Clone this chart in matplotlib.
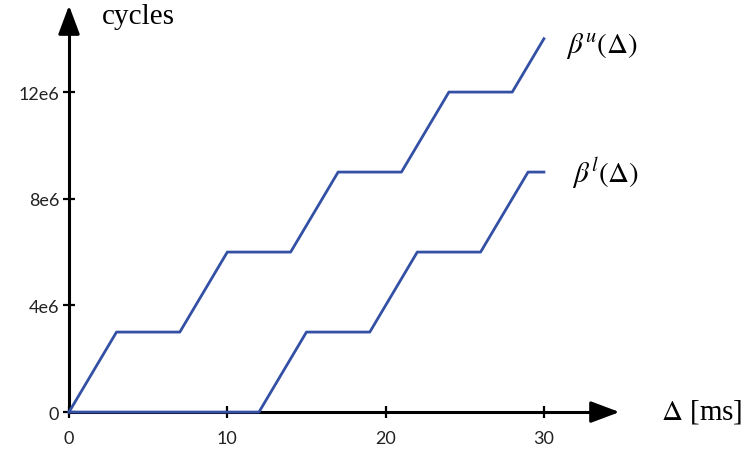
import numpy as np
import matplotlib.pyplot as plt

# values (x in ms, y in cycles)
upper_x = [0, 3, 7, 10, 14, 17, 21, 24, 28, 30]
upper_y = [0, 3e6, 3e6, 6e6, 6e6, 9e6, 9e6, 12e6, 12e6, 14e6]
lower_x = [0, 12, 15, 19, 22, 26, 29, 30]
lower_y = [0, 0, 3e6, 3e6, 6e6, 6e6, 9e6, 9e6]
xticks = [0, 10, 20, 30]
yticks = [0, 4e6, 8e6, 12e6]
ytick_labels = ['0', '4e6', '8e6', '12e6']

plt.rcParams['mathtext.fontset'] = 'stix'
blue = '#3350a4'

fig = plt.figure(figsize=(7.47, 4.56), dpi=100)
ax = fig.add_axes([0, 0, 1, 1])
ax.set_xlim(-4.36, 42.83)
ax.set_ylim(-1.61e6, 15.49e6)

ax.plot(upper_x, upper_y, color=blue, lw=2.0, zorder=3)
ax.plot(lower_x, lower_y, color=blue, lw=2.0, zorder=3)

# axes through the origin with arrow heads
for s in ['top', 'right']:
    ax.spines[s].set_visible(False)
ax.spines['left'].set_position(('data', 0))
ax.spines['bottom'].set_position(('data', 0))
ax.spines['left'].set_bounds(0, 14.8e6)
ax.spines['bottom'].set_bounds(0, 34.3)
ax.spines['left'].set_linewidth(2.2)
ax.spines['bottom'].set_linewidth(2.2)
ax.annotate('', xy=(34.95, 0), xytext=(33.5, 0),
            arrowprops=dict(arrowstyle='-|>,head_length=0.8,head_width=0.3',
                            color='black', lw=2.2, mutation_scale=22))
ax.annotate('', xy=(0, 15.35e6), xytext=(0, 14.3e6),
            arrowprops=dict(arrowstyle='-|>,head_length=0.8,head_width=0.3',
                            color='black', lw=2.2, mutation_scale=22))

ax.set_xticks(xticks)
ax.set_xticklabels([str(t) for t in xticks])
ax.set_yticks(yticks)
ax.set_yticklabels(ytick_labels)
ax.tick_params(direction='inout', length=8, width=1.6, labelsize=13)
ax.tick_params(axis='x', pad=9)
ax.tick_params(axis='y', pad=3)
for lab in ax.get_xticklabels() + ax.get_yticklabels():
    lab.set_fontfamily('Lato')
    lab.set_color('#222222')

serif = 'Liberation Serif'
ax.text(2.08, 14.85e6, 'cycles', fontsize=21, family=serif, ha='left', va='center')
ax.text(31.4, 13.75e6, r'$\beta^{u}(\Delta)$', fontsize=21, ha='left', va='center')
ax.text(31.8, 9.0e6, r'$\beta^{l}(\Delta)$', fontsize=21, ha='left', va='center')
ax.text(37.4, 0.05e6, r'$\Delta$ [ms]', fontsize=21, family=serif, ha='left', va='center')

fig.savefig('out.png', dpi=100)
